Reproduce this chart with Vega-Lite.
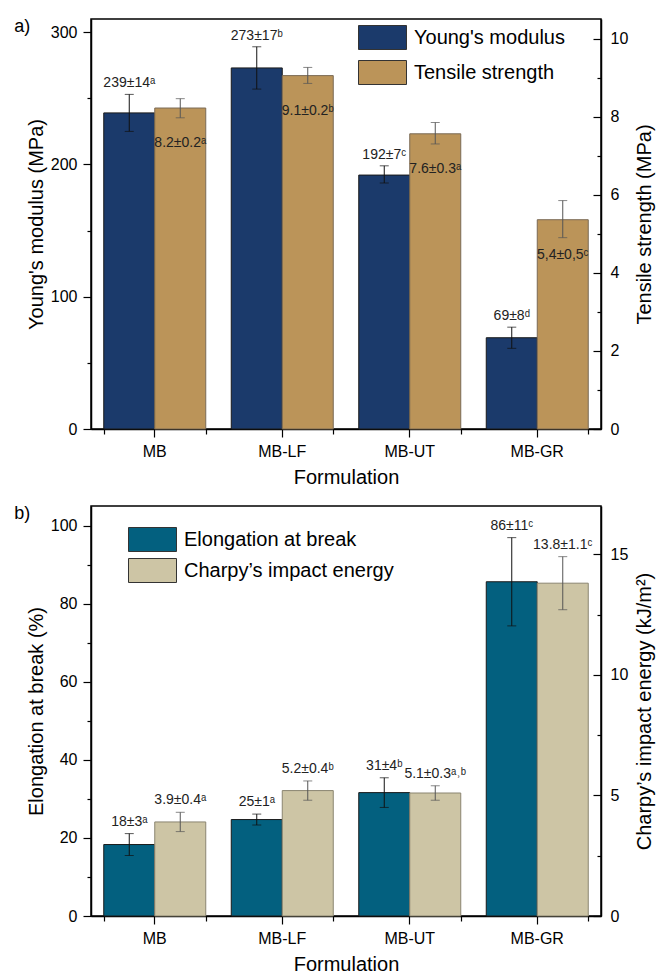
{
  "$schema": "https://vega.github.io/schema/vega-lite/v6.json",
  "padding": {"left": 13, "top": 17, "right": 2, "bottom": 0},
  "background": "white",
  "config": {
    "font": "Liberation Sans",
    "view": {"stroke": "black", "strokeWidth": 1.5},
    "axis": {"domainColor": "black", "domainWidth": 1.5, "tickColor": "black", "tickWidth": 1.2, "labelColor": "black", "titleColor": "black", "labelFontSize": 16, "titleFontSize": 20, "titleFontWeight": "normal", "grid": false, "labelFont": "Liberation Sans", "titleFont": "Liberation Sans"},
    "legend": {"labelFont": "Liberation Sans", "labelFontSize": 20, "labelColor": "black", "labelLimit": 0},
    "concat": {"spacing": 16},
    "title": {"font": "Liberation Sans", "fontSize": 18, "fontWeight": "normal", "color": "black"}
  },
  "datasets": {
    "a": [
      {"form": "MB", "measure": "Young's modulus", "value": 239, "lo": 225, "hi": 253, "label": "239±14ᵃ"},
      {"form": "MB-LF", "measure": "Young's modulus", "value": 273, "lo": 257, "hi": 289, "label": "273±17ᵇ"},
      {"form": "MB-UT", "measure": "Young's modulus", "value": 192, "lo": 186, "hi": 199, "label": "192±7ᶜ"},
      {"form": "MB-GR", "measure": "Young's modulus", "value": 69, "lo": 61, "hi": 77, "label": "69±8ᵈ"},
      {"form": "MB", "measure": "Tensile strength", "value": 8.22, "lo": 7.97, "hi": 8.46, "label": "8.2±0.2ᵃ"},
      {"form": "MB-LF", "measure": "Tensile strength", "value": 9.05, "lo": 8.85, "hi": 9.26, "label": "9.1±0.2ᵇ"},
      {"form": "MB-UT", "measure": "Tensile strength", "value": 7.56, "lo": 7.3, "hi": 7.85, "label": "7.6±0.3ᵃ"},
      {"form": "MB-GR", "measure": "Tensile strength", "value": 5.36, "lo": 4.9, "hi": 5.85, "label": "5,4±0,5ᶜ"}
    ],
    "b": [
      {"form": "MB", "prop": "Elongation at break", "value": 18.3, "lo": 15.5, "hi": 21.1, "label": "18±3ᵃ"},
      {"form": "MB-LF", "prop": "Elongation at break", "value": 24.7, "lo": 23.3, "hi": 26.1, "label": "25±1ᵃ"},
      {"form": "MB-UT", "prop": "Elongation at break", "value": 31.6, "lo": 27.8, "hi": 35.4, "label": "31±4ᵇ"},
      {"form": "MB-GR", "prop": "Elongation at break", "value": 85.6, "lo": 74.3, "hi": 96.9, "label": "86±11ᶜ"},
      {"form": "MB", "prop": "Charpy’s impact energy", "value": 3.9, "lo": 3.5, "hi": 4.3, "label": "3.9±0.4ᵃ"},
      {"form": "MB-LF", "prop": "Charpy’s impact energy", "value": 5.2, "lo": 4.8, "hi": 5.6, "label": "5.2±0.4ᵇ"},
      {"form": "MB-UT", "prop": "Charpy’s impact energy", "value": 5.1, "lo": 4.8, "hi": 5.4, "label": "5.1±0.3ᵃ˒ᵇ"},
      {"form": "MB-GR", "prop": "Charpy’s impact energy", "value": 13.8, "lo": 12.7, "hi": 14.9, "label": "13.8±1.1ᶜ"}
    ]
  },
  "vconcat": [
    {
      "width": 510,
      "height": 410,
      "title": {"text": "a)", "anchor": "start", "frame": "bounds", "offset": -17, "dx": -12},
      "data": {"name": "a"},
      "encoding": {
        "x": {"field": "form", "type": "nominal", "sort": ["MB", "MB-LF", "MB-UT", "MB-GR"], "scale": {"paddingInner": 0.2, "paddingOuter": 0.1}, "axis": null},
        "xOffset": {"field": "measure", "type": "nominal", "scale": {"domain": ["Young's modulus", "Tensile strength"]}}
      },
      "layer": [
        {
          "transform": [{"filter": "datum.measure === \"Young's modulus\""}],
          "mark": {"type": "bar", "stroke": "#1a1a1a", "strokeWidth": 1},
          "encoding": {
            "x": {"field": "form", "type": "nominal", "sort": ["MB", "MB-LF", "MB-UT", "MB-GR"], "axis": {"orient": "bottom", "title": "Formulation", "labelAngle": 0, "tickSize": 8, "labelPadding": 6, "titlePadding": 8}},
            "y": {"field": "value", "type": "quantitative", "scale": {"domain": [0, 310]}, "axis": {"orient": "left", "title": "Young's modulus (MPa)", "values": [0, 100, 200, 300], "tickSize": 8, "labelPadding": 6, "titlePadding": 4}},
            "color": {"field": "measure", "type": "nominal", "scale": {"domain": ["Young's modulus", "Tensile strength"], "range": ["#1b3a6b", "#bb9459"]}, "legend": {"title": null, "orient": "none", "legendX": 279, "legendY": 6, "symbolType": "M-2,-1H2V1H-2Z", "symbolSize": 576, "symbolStrokeColor": "#333", "symbolStrokeWidth": 1, "labelOffset": 19, "rowPadding": 6, "symbolOpacity": 1}}
          }
        },
        {"transform": [{"filter": "datum.measure === \"Young's modulus\""}], "mark": {"type": "rule", "color": "#111", "strokeWidth": 1}, "encoding": {"y": {"field": "lo", "type": "quantitative", "scale": {"domain": [0, 310]}, "axis": {"orient": "left", "values": [50, 150, 250], "labels": false, "domain": false, "title": null, "tickSize": 4}}, "y2": {"field": "hi"}}},
        {"transform": [{"filter": "datum.measure === \"Young's modulus\""}], "mark": {"type": "tick", "color": "#111", "size": 9, "thickness": 1}, "encoding": {"y": {"field": "hi", "type": "quantitative", "scale": {"domain": [0, 310]}, "axis": null}}},
        {"transform": [{"filter": "datum.measure === \"Young's modulus\""}], "mark": {"type": "tick", "color": "#111", "size": 9, "thickness": 1}, "encoding": {
          "x": {"field": "form", "type": "nominal", "sort": ["MB", "MB-LF", "MB-UT", "MB-GR"], "axis": {"orient": "bottom", "tickBand": "extent", "labels": false, "domain": false, "title": null, "tickSize": 5}},
          "y": {"field": "lo", "type": "quantitative", "scale": {"domain": [0, 310]}, "axis": null}}},
        {"transform": [{"filter": "datum.measure === \"Young's modulus\""}], "mark": {"type": "text", "baseline": "alphabetic", "dy": -7, "fontSize": 14, "color": "#222"}, "encoding": {"y": {"field": "hi", "type": "quantitative", "scale": {"domain": [0, 310]}, "axis": null}, "text": {"field": "label"}}},
        {
          "transform": [{"filter": "datum.measure === 'Tensile strength'"}],
          "mark": {"type": "bar", "stroke": "#7a6a55", "strokeWidth": 1},
          "encoding": {
            "y": {"field": "value", "type": "quantitative", "scale": {"domain": [0, 10.5]}, "axis": {"orient": "right", "title": "Tensile strength (MPa)", "titleAngle": 270, "titleBaseline": "top", "values": [0, 2, 4, 6, 8, 10], "tickSize": -8, "labelPadding": 17, "titlePadding": 7}},
            "color": {"field": "measure", "type": "nominal", "scale": {"domain": ["Young's modulus", "Tensile strength"], "range": ["#1b3a6b", "#bb9459"]}, "legend": {"title": null, "orient": "none", "legendX": 279, "legendY": 6, "symbolType": "M-2,-1H2V1H-2Z", "symbolSize": 576, "symbolStrokeColor": "#333", "symbolStrokeWidth": 1, "labelOffset": 19, "rowPadding": 6, "symbolOpacity": 1}}
          }
        },
        {"transform": [{"filter": "datum.measure === 'Tensile strength'"}], "mark": {"type": "rule", "color": "#555", "strokeWidth": 1}, "encoding": {"y": {"field": "lo", "type": "quantitative", "scale": {"domain": [0, 10.5]}, "axis": {"orient": "right", "values": [1, 3, 5, 7, 9], "labels": false, "domain": false, "title": null, "tickSize": -4}}, "y2": {"field": "hi"}}},
        {"transform": [{"filter": "datum.measure === 'Tensile strength'"}], "mark": {"type": "tick", "color": "#555", "size": 9, "thickness": 1}, "encoding": {"y": {"field": "hi", "type": "quantitative", "scale": {"domain": [0, 10.5]}, "axis": null}}},
        {"transform": [{"filter": "datum.measure === 'Tensile strength'"}], "mark": {"type": "tick", "color": "#555", "size": 9, "thickness": 1}, "encoding": {"y": {"field": "lo", "type": "quantitative", "scale": {"domain": [0, 10.5]}, "axis": null}}},
        {"transform": [{"filter": "datum.measure === 'Tensile strength'"}], "mark": {"type": "text", "baseline": "alphabetic", "dy": 39, "fontSize": 14, "color": "#222"}, "encoding": {"y": {"field": "value", "type": "quantitative", "scale": {"domain": [0, 10.5]}, "axis": null}, "text": {"field": "label"}}}
      ],
      "resolve": {"scale": {"y": "independent"}, "axis": {"x": "independent"}}
    },
    {
      "width": 510,
      "height": 410,
      "title": {"text": "b)", "anchor": "start", "frame": "bounds", "offset": -17, "dx": -12},
      "data": {"name": "b"},
      "encoding": {
        "x": {"field": "form", "type": "nominal", "sort": ["MB", "MB-LF", "MB-UT", "MB-GR"], "scale": {"paddingInner": 0.2, "paddingOuter": 0.1}, "axis": null},
        "xOffset": {"field": "prop", "type": "nominal", "scale": {"domain": ["Elongation at break", "Charpy’s impact energy"]}}
      },
      "layer": [
        {
          "transform": [{"filter": "datum.prop === 'Elongation at break'"}],
          "mark": {"type": "bar", "stroke": "#1a1a1a", "strokeWidth": 1},
          "encoding": {
            "x": {"field": "form", "type": "nominal", "sort": ["MB", "MB-LF", "MB-UT", "MB-GR"], "axis": {"orient": "bottom", "title": "Formulation", "labelAngle": 0, "tickSize": 8, "labelPadding": 6, "titlePadding": 8}},
            "y": {"field": "value", "type": "quantitative", "scale": {"domain": [0, 105]}, "axis": {"orient": "left", "title": "Elongation at break (%)", "values": [0, 20, 40, 60, 80, 100], "tickSize": 8, "labelPadding": 6, "titlePadding": 4}},
            "color": {"field": "prop", "type": "nominal", "scale": {"domain": ["Elongation at break", "Charpy’s impact energy"], "range": ["#03607f", "#cdc5a5"]}, "legend": {"title": null, "orient": "none", "legendX": 49, "legendY": 21, "symbolType": "M-2,-1H2V1H-2Z", "symbolSize": 576, "symbolStrokeColor": "#333", "symbolStrokeWidth": 1, "labelOffset": 19, "rowPadding": 2, "symbolOpacity": 1}}
          }
        },
        {"transform": [{"filter": "datum.prop === 'Elongation at break'"}], "mark": {"type": "rule", "color": "#111", "strokeWidth": 1}, "encoding": {"y": {"field": "lo", "type": "quantitative", "scale": {"domain": [0, 105]}, "axis": {"orient": "left", "values": [10, 30, 50, 70, 90], "labels": false, "domain": false, "title": null, "tickSize": 4}}, "y2": {"field": "hi"}}},
        {"transform": [{"filter": "datum.prop === 'Elongation at break'"}], "mark": {"type": "tick", "color": "#111", "size": 9, "thickness": 1}, "encoding": {"y": {"field": "hi", "type": "quantitative", "scale": {"domain": [0, 105]}, "axis": null}}},
        {"transform": [{"filter": "datum.prop === 'Elongation at break'"}], "mark": {"type": "tick", "color": "#111", "size": 9, "thickness": 1}, "encoding": {
          "x": {"field": "form", "type": "nominal", "sort": ["MB", "MB-LF", "MB-UT", "MB-GR"], "axis": {"orient": "bottom", "tickBand": "extent", "labels": false, "domain": false, "title": null, "tickSize": 5}},
          "y": {"field": "lo", "type": "quantitative", "scale": {"domain": [0, 105]}, "axis": null}}},
        {"transform": [{"filter": "datum.prop === 'Elongation at break'"}], "mark": {"type": "text", "baseline": "alphabetic", "dy": -8, "fontSize": 14, "color": "#222"}, "encoding": {"y": {"field": "hi", "type": "quantitative", "scale": {"domain": [0, 105]}, "axis": null}, "text": {"field": "label"}}},
        {
          "transform": [{"filter": "datum.prop !== 'Elongation at break'"}],
          "mark": {"type": "bar", "stroke": "#8a8570", "strokeWidth": 1},
          "encoding": {
            "y": {"field": "value", "type": "quantitative", "scale": {"domain": [0, 17]}, "axis": {"orient": "right", "title": "Charpy’s impact energy (kJ/m²)", "titleAngle": 270, "titleBaseline": "top", "values": [0, 5, 10, 15], "tickSize": -8, "labelPadding": 17, "titlePadding": 7}},
            "color": {"field": "prop", "type": "nominal", "scale": {"domain": ["Elongation at break", "Charpy’s impact energy"], "range": ["#03607f", "#cdc5a5"]}, "legend": {"title": null, "orient": "none", "legendX": 49, "legendY": 21, "symbolType": "M-2,-1H2V1H-2Z", "symbolSize": 576, "symbolStrokeColor": "#333", "symbolStrokeWidth": 1, "labelOffset": 19, "rowPadding": 2, "symbolOpacity": 1}}
          }
        },
        {"transform": [{"filter": "datum.prop !== 'Elongation at break'"}], "mark": {"type": "rule", "color": "#555", "strokeWidth": 1}, "encoding": {"y": {"field": "lo", "type": "quantitative", "scale": {"domain": [0, 17]}, "axis": {"orient": "right", "values": [2.5, 7.5, 12.5], "labels": false, "domain": false, "title": null, "tickSize": -4}}, "y2": {"field": "hi"}}},
        {"transform": [{"filter": "datum.prop !== 'Elongation at break'"}], "mark": {"type": "tick", "color": "#555", "size": 9, "thickness": 1}, "encoding": {"y": {"field": "hi", "type": "quantitative", "scale": {"domain": [0, 17]}, "axis": null}}},
        {"transform": [{"filter": "datum.prop !== 'Elongation at break'"}], "mark": {"type": "tick", "color": "#555", "size": 9, "thickness": 1}, "encoding": {"y": {"field": "lo", "type": "quantitative", "scale": {"domain": [0, 17]}, "axis": null}}},
        {"transform": [{"filter": "datum.prop !== 'Elongation at break'"}], "mark": {"type": "text", "baseline": "alphabetic", "dy": -8, "fontSize": 14, "color": "#222"}, "encoding": {"y": {"field": "hi", "type": "quantitative", "scale": {"domain": [0, 17]}, "axis": null}, "text": {"field": "label"}}}
      ],
      "resolve": {"scale": {"y": "independent"}, "axis": {"x": "independent"}}
    }
  ],
  "resolve": {"scale": {"color": "independent", "xOffset": "independent"}, "legend": {"color": "independent"}}
}
